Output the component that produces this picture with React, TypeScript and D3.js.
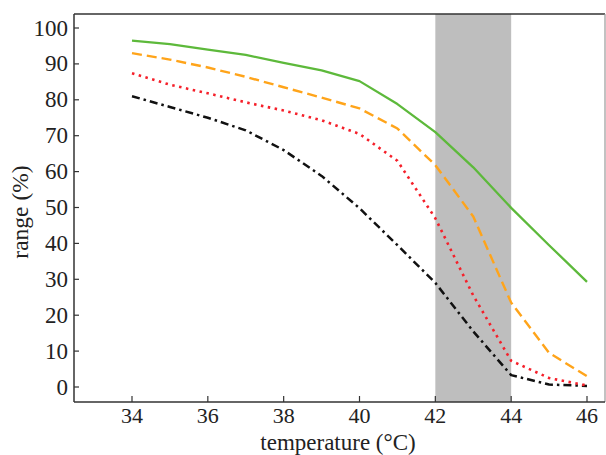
import React from "react";
import * as d3 from "d3";

const temps = [34, 35, 36, 37, 38, 39, 40, 41, 42, 43, 44, 45, 46];
const greenSeries = [96.5, 95.5, 94, 92.5, 90.3, 88.2, 85.2, 78.8, 71, 61.2, 49.9, 39.5, 29.3];
const orangeSeries = [93, 91.2, 89, 86.4, 83.5, 80.6, 77.6, 72, 61.8, 47.5, 23.5, 9.5, 3];
const redSeries = [87.4, 84.2, 81.8, 79.3, 77, 74.3, 70.5, 63, 47, 25.5, 7.3, 2.5, 0.4];
const blackSeries = [81, 78, 75, 71.5, 66, 58.8, 49.8, 39.5, 29, 15.5, 3.3, 0.7, 0.3];
const xTicks = [34, 36, 38, 40, 42, 44, 46];
const yTicks = [0, 10, 20, 30, 40, 50, 60, 70, 80, 90, 100];
const band = [42, 44];

const W = 606, H = 455;
const L = 74, R = 605, T = 14, B = 402;

export default function App() {
  const x = d3.scaleLinear().domain([34, 46]).range([132, 587]);
  const y = d3.scaleLinear().domain([0, 100]).range([387, 28]);
  const line = (vals: number[]) =>
    d3.line<number>().x((_, i) => x(temps[i])).y((v) => y(v))(vals) || "";
  const font = "'Liberation Serif', 'Times New Roman', serif";
  const series = [
    { v: blackSeries, c: "#111", dash: "8,4,2.5,4", w: 2.5 },
    { v: redSeries, c: "#f5202a", dash: "2.5,4.5", w: 2.6 },
    { v: orangeSeries, c: "#ffa41a", dash: "10,5", w: 2.4 },
    { v: greenSeries, c: "#5db93b", dash: "", w: 2.3 },
  ];
  return (
    <svg width={W} height={H} style={{ position: "absolute", left: 0, top: 0, background: "#fff" }}>
      <rect x={x(band[0])} y={T} width={x(band[1]) - x(band[0])} height={B - T} fill="#bebebe" />
      {series.map((s, i) => (
        <path key={i} d={line(s.v)} fill="none" stroke={s.c} strokeWidth={s.w}
          strokeDasharray={s.dash || undefined} strokeLinejoin="round" />
      ))}
      <line x1={L} y1={T} x2={R} y2={T} stroke="#333" strokeWidth={1.5} />
      <line x1={R} y1={T} x2={R} y2={B} stroke="#999" strokeWidth={1.2} />
      <line x1={L} y1={T} x2={L} y2={B} stroke="#333" strokeWidth={1.5} />
      <line x1={L} y1={B} x2={R} y2={B} stroke="#333" strokeWidth={1.5} />
      {yTicks.map((t) => (
        <g key={t}>
          <line x1={L} x2={L + 5} y1={y(t)} y2={y(t)} stroke="#333" strokeWidth={1.2} />
          <text x={68} y={y(t) + 7.5} textAnchor="end" fontFamily={font} fontSize={23} fill="#222">{t}</text>
        </g>
      ))}
      {xTicks.map((t) => (
        <g key={t}>
          <line x1={x(t)} x2={x(t)} y1={B} y2={B - 6} stroke="#333" strokeWidth={1.2} />
          <text x={x(t)} y={423} textAnchor="middle" fontFamily={font} fontSize={22} fill="#222">{t}</text>
        </g>
      ))}
      <text x={338} y={450} textAnchor="middle" fontFamily={font} fontSize={23} fill="#222">temperature (°C)</text>
      <text transform={`translate(28,212) rotate(-90)`} textAnchor="middle" fontFamily={font} fontSize={23.5} fill="#222">range (%)</text>
    </svg>
  );
}
